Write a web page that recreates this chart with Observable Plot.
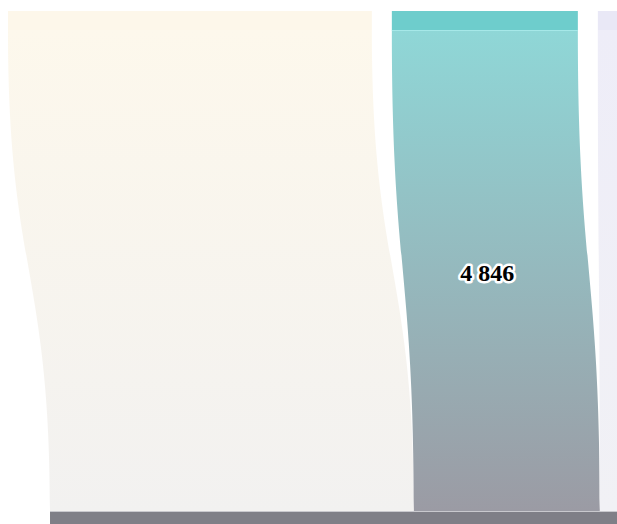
<!DOCTYPE html>
<html>
<head>
<meta charset="utf-8">
<script src="https://cdn.jsdelivr.net/npm/d3@7"></script>
<script src="https://cdn.jsdelivr.net/npm/@observablehq/plot@0.6"></script>
<style>
  html, body { margin: 0; padding: 0; background: #ffffff; }
  #chart svg { display: block; }
</style>
</head>
<body>
<div id="chart"></div>
<script>
// ---- data ----
const sources = ["A", "B", "C"];           // top nodes (only partly visible)
const flows = [9480, 4846, 4200];          // flow from each top node into the bottom node
const labels = ["", "4 846", ""];          // visible flow labels
const nodeColors = ["#fdf7ea", "#6ecdcc", "#e9e8f6"];
const linkTopColors = ["#fdf8ec", "#8fd7d7", "#eeedf8"];
const linkBottomColors = ["#f2f1f0", "#9b9ba4", "#f1f1f5"];
const bottomNodeColor = "#7f7f87";

// ---- layout (value units / y units) ----
const W = 617, H = 524;
const pad = 521;            // gap between top nodes
const xStart = -208;        // domain start (crop offset)
const bottomShift = 1095;   // horizontal shift of the bottom node
const xEnd = 15867;
const topY1 = 11, topY2 = 30, bottomY = 511;

const topNodes = [];
let acc = 0;
flows.forEach((v, i) => {
  topNodes.push({name: sources[i], x1: acc, x2: acc + v, color: nodeColors[i]});
  acc += v + pad;
});
const links = [];
let bacc = bottomShift;
flows.forEach((v, i) => {
  links.push({i, value: v, label: labels[i],
    t1: topNodes[i].x1, t2: topNodes[i].x2, b1: bacc, b2: bacc + v});
  bacc += v;
});
const bottomNode = [{x1: bottomShift, x2: bacc}];

const marks = [];
links.forEach(l => {
  marks.push(Plot.areaX(
    [{y: topY2, x1: l.t1, x2: l.t2}, {y: bottomY, x1: l.b1, x2: l.b2}],
    {y: "y", x1: "x1", x2: "x2", curve: "bump-y", fill: `url(#lg${l.i})`}
  ));
});
marks.push(Plot.rect(topNodes, {x1: "x1", x2: "x2", y1: () => topY1, y2: () => topY2, fill: d => d.color}));
marks.push(Plot.ruleY([topY2], {x1: topNodes[1].x1, x2: topNodes[1].x2, stroke: "#a6e8e8", strokeWidth: 1}));
marks.push(Plot.rect(bottomNode, {x1: "x1", x2: "x2", y1: () => bottomY, y2: () => H + 5, fill: bottomNodeColor}));
marks.push(Plot.ruleY([bottomY], {x1: bottomNode[0].x1, x2: bottomNode[0].x2, stroke: "#c9c9ce", strokeWidth: 1}));
marks.push(Plot.text(links.filter(l => l.label), {
  x: l => (l.t1 + l.t2 + l.b1 + l.b2) / 4,
  y: () => (topY2 + bottomY) / 2,
  dx: -9, dy: 2,
  text: "label",
  fill: "#000",
  stroke: "#fff",
  strokeWidth: 5,
  fontSize: 24,
  fontWeight: "bold",
  fontFamily: "Liberation Serif, DejaVu Serif, serif"
}));

const plot = Plot.plot({
  width: W, height: H,
  margin: 0,
  x: {domain: [xStart, xEnd], range: [0, W], axis: null},
  y: {domain: [0, H], range: [0, H], axis: null},
  color: {type: "identity"},
  style: {background: "#ffffff", overflow: "hidden"},
  marks
});

const svg = d3.select(plot);
const defs = svg.insert("defs", ":first-child");
links.forEach(l => {
  const g = defs.append("linearGradient").attr("id", `lg${l.i}`)
    .attr("x1", 0).attr("y1", 0).attr("x2", 0).attr("y2", 1);
  g.append("stop").attr("offset", "0%").attr("stop-color", linkTopColors[l.i]);
  g.append("stop").attr("offset", "100%").attr("stop-color", linkBottomColors[l.i]);
});
document.getElementById("chart").appendChild(plot);
</script>
</body>
</html>
